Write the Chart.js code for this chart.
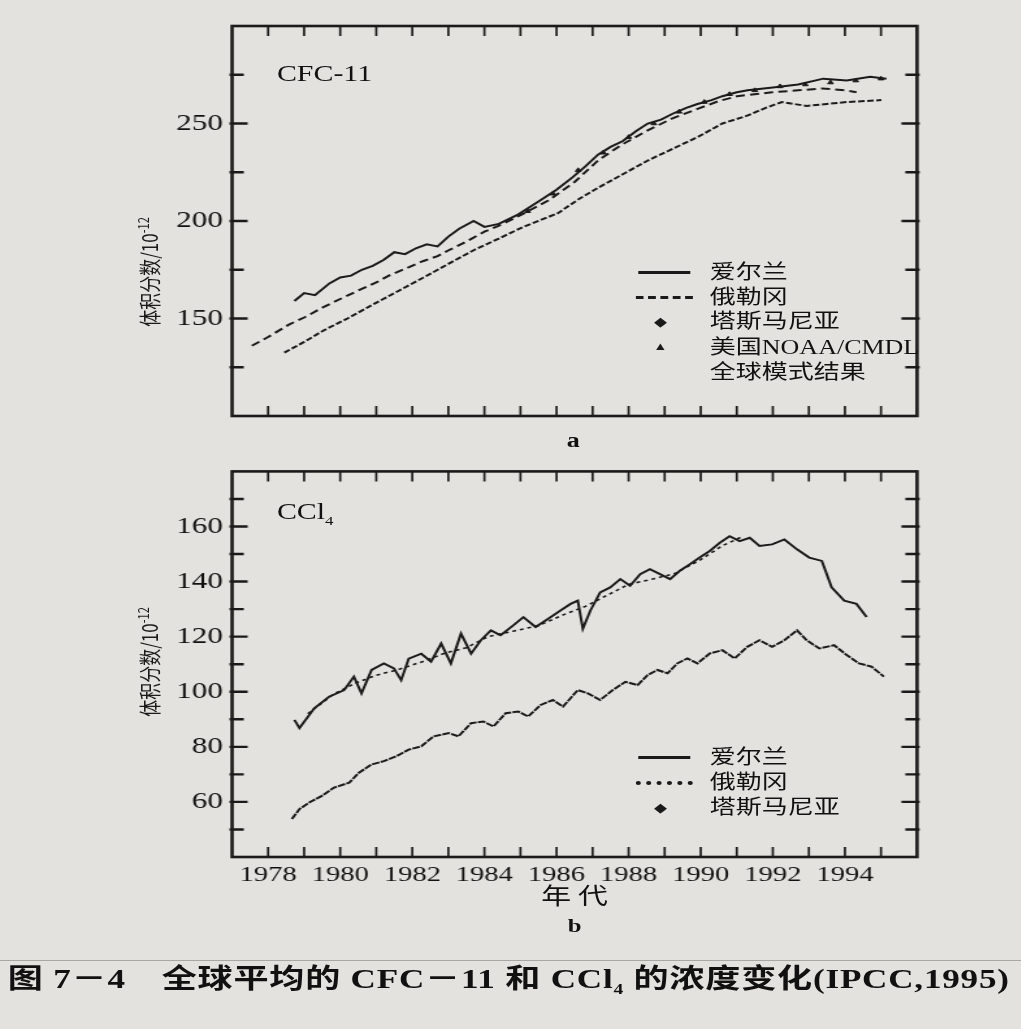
<!DOCTYPE html>
<html>
<head>
<meta charset="utf-8">
<script src="https://cdn.jsdelivr.net/npm/chart.js@4.4.1/dist/chart.umd.min.js"></script>
<style>
  body { margin: 0; background: #e4e2de; width: 1021px; height: 1029px; overflow: hidden; }
  #wrap { position: absolute; left: 0; top: 0; width: 786px; height: 1029px; transform: scaleX(1.3); transform-origin: 0 0; }
  .box { position: absolute; left: 0; width: 786px; }
  .t { position: absolute; white-space: nowrap; line-height: 1; color: #111;
       font-family: "Liberation Serif", "Noto Sans CJK SC", serif; }
  .solid { position: absolute; height: 0; border-top: 3px solid #1a1a1a; }
  .dash { position: absolute; height: 0; border-top: 3px dashed #1a1a1a; }
  .dots { position: absolute; height: 0; border-top: 4px dotted #1a1a1a; }
  .mk { position: absolute; font-size: 13px; line-height: 1; color: #1a1a1a; transform: translate(-50%, -50%); }
  .ytitle { position: absolute; white-space: nowrap; font-family: "Noto Sans CJK SC", sans-serif; font-size: 17px; color: #1a1a1a;
            transform: translate(-50%, -50%) rotate(-90deg); }
</style>
</head>
<body>
<div id="wrap">
  <div class="box" style="top:0;height:440px"><canvas id="cfc"></canvas></div>
  <div class="box" style="top:450px;height:450px"><canvas id="ccl"></canvas></div>

  <!-- panel a texts -->
  <div class="t" style="left:213px;top:62px;font-size:23px">CFC-11</div>
  <div class="ytitle" style="left:114px;top:272px">体积分数/10<sup style="font-size:11px">-12</sup></div>
  <div class="solid" style="left:491px;top:271px;width:40px"></div>
  <div class="dash" style="left:489px;top:296px;width:44px"></div>
  <div class="mk" style="left:508px;top:321px">◆</div>
  <div class="mk" style="left:508px;top:346px;font-size:11px">▲</div>
  <div class="t" style="left:546px;top:262px;font-size:20px">爱尔兰</div>
  <div class="t" style="left:546px;top:287px;font-size:20px">俄勒冈</div>
  <div class="t" style="left:546px;top:311px;font-size:20px">塔斯马尼亚</div>
  <div class="t" style="left:546px;top:337px;font-size:20px">美国NOAA/CMDL</div>
  <div class="t" style="left:546px;top:362px;font-size:20px">全球模式结果</div>
  <div class="t" style="left:436px;top:430px;font-size:20px;font-weight:bold">a</div>

  <!-- panel b texts -->
  <div class="t" style="left:213px;top:500px;font-size:23px">CCl<sub style="font-size:13px">4</sub></div>
  <div class="ytitle" style="left:114px;top:662px">体积分数/10<sup style="font-size:11px">-12</sup></div>
  <div class="solid" style="left:491px;top:756px;width:40px"></div>
  <div class="dots" style="left:489px;top:781px;width:44px"></div>
  <div class="mk" style="left:508px;top:807px">◆</div>
  <div class="t" style="left:546px;top:747px;font-size:20px">爱尔兰</div>
  <div class="t" style="left:546px;top:772px;font-size:20px">俄勒冈</div>
  <div class="t" style="left:546px;top:797px;font-size:20px">塔斯马尼亚</div>
  <div class="t" style="left:442px;top:883px;font-size:23px;font-family:'Noto Sans CJK SC';transform:translateX(-50%)">年 代</div>
  <div class="t" style="left:442px;top:916px;font-size:19px;font-weight:bold;transform:translateX(-50%)">b</div>

  <div style="position:absolute;left:0;top:960px;width:786px;height:0;border-top:1px solid #a9a7a3"></div>
  <div class="t" style="left:6px;top:966px;font-size:27px;font-weight:bold;letter-spacing:0.6px">图 7－4　全球平均的 CFC－11 和 CCl<sub style="font-size:15px">4</sub> 的浓度变化(IPCC,1995)</div>
</div>

<script>
const ink = '#1a1a1a';
Chart.defaults.font.family = '"Liberation Serif", serif';
Chart.defaults.color = ink;

// ---- panel a : CFC-11 ----
const cfcIrelandYears = [1978.73, 1979.0, 1979.3, 1979.7, 1980.0, 1980.3, 1980.6, 1980.9, 1981.2, 1981.5, 1981.8, 1982.1, 1982.4, 1982.7, 1983.0, 1983.3, 1983.7, 1984.0, 1984.4, 1984.9, 1985.5, 1986.0, 1986.45, 1986.8, 1987.15, 1987.5, 1987.84, 1988.2, 1988.53, 1988.9, 1989.22, 1989.6, 1989.91, 1990.3, 1990.6, 1991.0, 1991.3, 1992.0, 1992.7, 1993.4, 1994.05, 1994.7, 1995.15];
const cfcIrelandValues = [159, 163, 162, 168, 171, 172, 175, 177, 180, 184, 183, 186, 188, 187, 192, 196, 200, 197, 198.5, 203, 210, 216, 222.5, 228, 234, 238, 241, 246, 250, 252, 255, 258, 260, 262, 264, 266, 267, 268.5, 270, 273, 272, 274, 273];

const cfcOregonYears = [1977.55, 1978.0, 1978.59, 1979.0, 1979.55, 1980.0, 1980.52, 1981.0, 1981.35, 1981.8, 1982.31, 1982.7, 1983.01, 1983.4, 1983.7, 1984.0, 1984.39, 1985.0, 1985.77, 1986.5, 1987.15, 1987.8, 1988.53, 1989.2, 1989.91, 1990.5, 1991.01, 1991.98, 1992.7, 1993.36, 1994.0, 1994.32];
const cfcOregonValues = [136, 140.5, 147, 150.5, 156, 160, 164.5, 168.5, 172, 175.5, 179.5, 182, 185, 188.5, 191.5, 194.5, 197.5, 203, 210.5, 220, 231, 239, 246.5, 252.5, 257.5, 261.5, 264, 266, 267, 268, 267, 266];

const cfcTasmaniaYears = [1978.45, 1979.0, 1979.55, 1980.2, 1980.94, 1981.6, 1982.31, 1983.0, 1983.7, 1984.4, 1985.08, 1986.04, 1986.6, 1987.15, 1987.84, 1988.53, 1989.22, 1989.91, 1990.6, 1991.29, 1991.8, 1992.25, 1992.94, 1993.5, 1994.05, 1995.01];
const cfcTasmaniaValues = [132.5, 138, 144, 150, 157.5, 164, 171, 178, 185, 191, 197, 204, 211, 217, 224, 231, 237, 243, 250, 254, 258, 261, 259, 260, 261, 262];

const cfcNoaaYears = [1985.2, 1985.9, 1986.6, 1987.3, 1988.0, 1988.7, 1989.4, 1990.1, 1990.8, 1991.5, 1992.2, 1992.9, 1993.6, 1994.3, 1995.0];
const cfcNoaaValues = [205, 214, 226, 235, 243, 250, 256, 261, 265, 267, 269, 270, 271, 272, 273];

// ---- panel b : CCl4 ----
const cclIrelandYears = [1978.73, 1978.87, 1979.28, 1979.69, 1980.11, 1980.38, 1980.59, 1980.87, 1981.21, 1981.49, 1981.69, 1981.90, 1982.25, 1982.52, 1982.80, 1983.07, 1983.35, 1983.63, 1983.90, 1984.18, 1984.45, 1984.80, 1985.08, 1985.42, 1985.77, 1986.11, 1986.39, 1986.59, 1986.73, 1986.94, 1987.21, 1987.49, 1987.77, 1988.04, 1988.32, 1988.59, 1988.87, 1989.15, 1989.42, 1989.70, 1989.97, 1990.25, 1990.53, 1990.80, 1991.08, 1991.36, 1991.63, 1991.98, 1992.32, 1992.67, 1993.01, 1993.36, 1993.63, 1993.98, 1994.32, 1994.60];
const cclIrelandValues = [89.8, 86.8, 94.0, 98.2, 100.6, 105.5, 99.4, 107.9, 110.3, 108.5, 104.2, 112.0, 113.8, 110.9, 117.5, 110.3, 121.1, 113.8, 118.7, 122.3, 120.5, 124.1, 127.1, 123.5, 126.5, 129.5, 131.9, 133.1, 122.9, 129.5, 136.1, 137.9, 140.9, 138.5, 142.7, 144.5, 142.7, 140.9, 143.9, 146.3, 148.7, 151.1, 154.1, 156.5, 154.7, 155.9, 152.9, 153.5, 155.3, 151.7, 148.7, 147.5, 137.9, 133.1, 131.9, 127.1];

const cclOregonYears = [1979.1, 1979.8, 1980.4, 1981.0, 1981.6, 1982.3, 1982.9, 1983.5, 1984.1, 1984.8, 1985.5, 1986.2, 1986.8, 1987.4, 1988.0, 1988.7, 1989.3, 1990.0, 1990.6, 1991.1];
const cclOregonValues = [92, 99, 103, 106, 108, 111, 114, 116, 120, 122, 124, 128, 131, 135, 139, 141, 143, 148, 153, 156];

const cclTasmaniaYears = [1978.66, 1978.87, 1979.14, 1979.49, 1979.83, 1980.25, 1980.52, 1980.87, 1981.21, 1981.56, 1981.90, 1982.25, 1982.59, 1983.01, 1983.28, 1983.63, 1983.97, 1984.25, 1984.59, 1984.94, 1985.21, 1985.56, 1985.90, 1986.18, 1986.59, 1986.87, 1987.21, 1987.56, 1987.91, 1988.25, 1988.53, 1988.80, 1989.08, 1989.35, 1989.63, 1989.91, 1990.25, 1990.60, 1990.94, 1991.29, 1991.63, 1991.98, 1992.32, 1992.67, 1992.94, 1993.29, 1993.70, 1994.05, 1994.39, 1994.74, 1995.08];
const cclTasmaniaValues = [53.8, 57.4, 59.8, 62.2, 65.2, 67.0, 70.6, 73.6, 74.8, 76.6, 79.0, 80.2, 83.8, 85.0, 83.8, 88.6, 89.2, 87.4, 92.2, 92.8, 91.0, 95.2, 97.0, 94.6, 100.6, 99.4, 97.0, 100.6, 103.6, 102.4, 106.1, 107.9, 106.7, 110.3, 112.1, 110.3, 113.9, 115.1, 112.1, 116.3, 118.7, 116.3, 118.7, 122.3, 118.7, 115.7, 116.9, 113.3, 110.3, 109.1, 105.5];

const yearLabels = [1978, 1980, 1982, 1984, 1986, 1988, 1990, 1992, 1994];
const cfcTickLabels = [150, 200, 250];
const cclTickLabels = [60, 80, 100, 120, 140, 160];

function pts(xs, ys) {
    return xs.map((x, i) => ({ x: x, y: ys[i] }));
}

// frame box + inward ticks on all four sides
const frameTicks = {
    id: 'frameTicks',
    afterDraw(chart) {
        const ctx = chart.ctx;
        const a = chart.chartArea;
        const x = chart.scales.x;
        const y = chart.scales.y;
        ctx.save();
        ctx.strokeStyle = ink;
        ctx.lineWidth = 1.7;
        x.ticks.forEach(t => {
            const px = x.getPixelForValue(t.value);
            if (px <= a.left + 1 || px >= a.right - 1) return;
            ctx.beginPath();
            ctx.moveTo(px, a.bottom); ctx.lineTo(px, a.bottom - 10);
            ctx.moveTo(px, a.top); ctx.lineTo(px, a.top + 10);
            ctx.stroke();
        });
        ctx.lineWidth = 2.4;
        y.ticks.forEach(t => {
            const py = y.getPixelForValue(t.value);
            if (py <= a.top + 1 || py >= a.bottom - 1) return;
            const len = t.label ? 12 : 9;
            ctx.beginPath();
            ctx.moveTo(a.left - 2, py); ctx.lineTo(a.left + len, py);
            ctx.moveTo(a.right + 2, py); ctx.lineTo(a.right - len, py);
            ctx.stroke();
        });
        ctx.lineWidth = 2.6;
        ctx.strokeRect(a.left, a.top, a.right - a.left, a.bottom - a.top);
        ctx.restore();
    }
};

function lineSet(data, dash, width) {
    return { data: data, borderColor: ink, borderWidth: width || 2, borderDash: dash || [],
             pointRadius: 0, tension: 0, fill: false };
}

function makeChart(id, datasets, yMin, yMax, yStep, yLabels, xLabels, pad, xHeight) {
    return new Chart(document.getElementById(id), {
        type: 'line',
        data: { datasets: datasets },
        plugins: [frameTicks],
        options: {
            responsive: true,
            maintainAspectRatio: false,
            animation: false,
            layout: { padding: pad },
            plugins: { legend: { display: false }, tooltip: { enabled: false } },
            scales: {
                x: {
                    type: 'linear', min: 1977, max: 1996,
                    grid: { display: false, drawTicks: false },
                    border: { display: false },
                    ticks: {
                        display: xLabels,
                        stepSize: 1, autoSkip: false, maxRotation: 0, maxTicksLimit: 100, padding: 5,
                        font: { size: 22 }, color: '#111',
                        callback: v => yearLabels.includes(v) ? String(v) : ''
                    },
                    afterFit: s => { s.height = xHeight; }
                },
                y: {
                    min: yMin, max: yMax,
                    grid: { display: false, drawTicks: false },
                    border: { display: false },
                    ticks: {
                        stepSize: yStep, autoSkip: false, maxTicksLimit: 100, padding: 7,
                        font: { size: 24 }, color: '#111',
                        callback: v => yLabels.includes(v) ? String(v) : ''
                    },
                    afterFit: s => { s.width = 178.5; }
                }
            }
        }
    });
}

makeChart('cfc', [
    lineSet(pts(cfcIrelandYears, cfcIrelandValues), [], 2),
    lineSet(pts(cfcOregonYears, cfcOregonValues), [7, 4], 2),
    lineSet(pts(cfcTasmaniaYears, cfcTasmaniaValues), [5, 2], 2),
    { data: pts(cfcNoaaYears, cfcNoaaValues), showLine: false, pointStyle: 'triangle',
      pointRadius: 2.5, backgroundColor: ink, borderColor: ink, borderWidth: 1 }
], 100, 300, 25, cfcTickLabels, false, { top: 26, right: 80.6, bottom: 24, left: 0 }, 0);

makeChart('ccl', [
    lineSet(pts(cclIrelandYears, cclIrelandValues), [], 2),
    lineSet(pts(cclOregonYears, cclOregonValues), [3, 3], 1.6),
    lineSet(pts(cclTasmaniaYears, cclTasmaniaValues), [6, 1], 2)
], 40, 180, 10, cclTickLabels, true, { top: 15, right: 80.6, bottom: 0, left: 0 }, 43);
</script>
</body>
</html>
